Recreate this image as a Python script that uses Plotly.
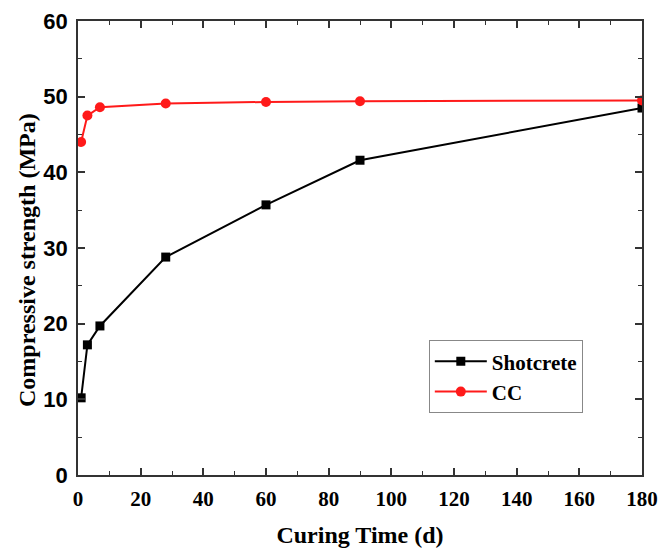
import plotly.graph_objects as go

days = [1, 3, 7, 28, 60, 90, 180]
shotcrete = [10.2, 17.2, 19.7, 28.8, 35.7, 41.6, 48.5]
cc = [44.0, 47.5, 48.6, 49.1, 49.3, 49.4, 49.5]

fig = go.Figure()
fig.add_trace(go.Scatter(x=days, y=shotcrete, name="Shotcrete", mode="lines+markers",
                         line=dict(color="black", width=2),
                         marker=dict(symbol="square", size=9, color="black")))
fig.add_trace(go.Scatter(x=days, y=cc, name="CC", mode="lines+markers",
                         line=dict(color="#ff1a1a", width=2),
                         marker=dict(symbol="circle", size=10, color="#ff1a1a")))

serif = "Liberation Serif"
sans = "Liberation Sans"

fig.update_layout(
    width=660, height=550,
    margin=dict(l=78, r=18, t=21, b=75, autoexpand=False),
    paper_bgcolor="white", plot_bgcolor="white",
    showlegend=True,
    legend=dict(x=0.622, y=0.297, xanchor="left", yanchor="top",
                bordercolor="#888888", borderwidth=1, bgcolor="white",
                font=dict(family=serif, size=21, color="black", weight="bold"),
                itemwidth=52, tracegroupgap=0),
    xaxis=dict(range=[0, 180], dtick=20, tick0=0, automargin=False,
               showgrid=False, zeroline=False,
               showline=True, linecolor="#333333", linewidth=1.5, mirror="allticks",
               ticks="inside", ticklen=7, tickwidth=1.5, tickcolor="#333333",
               minor=dict(dtick=10, ticks="inside", ticklen=4, tickwidth=1.2, tickcolor="#333333"),
               ticklabelstandoff=4,
               tickfont=dict(family=serif, size=21, color="black", weight="bold"),
               title=dict(text="Curing Time (d)", standoff=16,
                          font=dict(family=serif, size=24, color="black", weight="bold"))),
    yaxis=dict(range=[0, 60], dtick=10, tick0=0, automargin=False,
               showgrid=False, zeroline=False,
               showline=True, linecolor="#333333", linewidth=1.5, mirror="allticks",
               ticks="inside", ticklen=7, tickwidth=1.5, tickcolor="#333333",
               minor=dict(dtick=5, ticks="inside", ticklen=4, tickwidth=1.2, tickcolor="#333333"),
               ticklabelstandoff=4,
               tickfont=dict(family=sans, size=22, color="black", weight="bold")),
    annotations=[dict(text="Compressive strength (MPa)", textangle=-90,
                      xref="paper", yref="paper", x=-0.0904, y=0.4736,
                      xanchor="center", yanchor="middle", showarrow=False,
                      font=dict(family=serif, size=24, color="black", weight="bold"))],
)

fig.write_html("out.html", config={"displayModeBar": False},
               post_script="document.body.style.margin='0';document.body.style.overflow='hidden';")
